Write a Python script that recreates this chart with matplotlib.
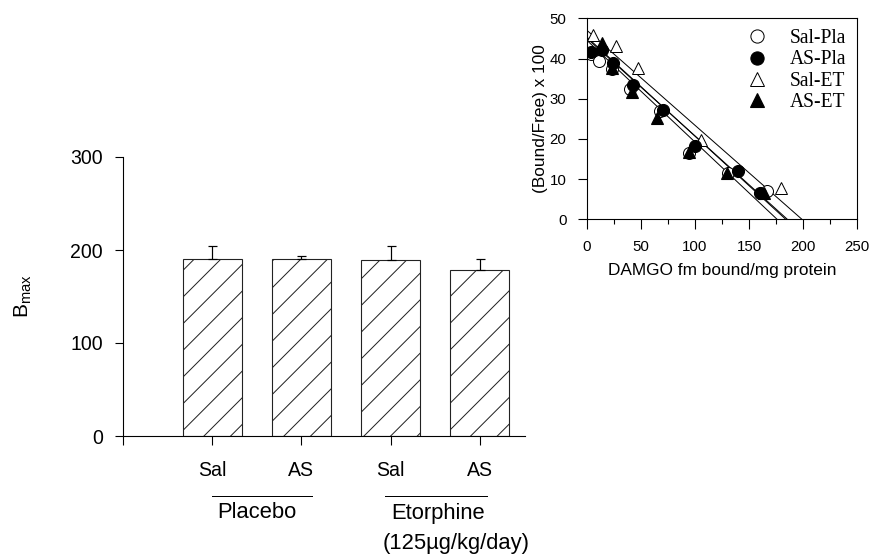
import matplotlib
matplotlib.use('Agg')
import matplotlib.pyplot as plt
from matplotlib.lines import Line2D
from matplotlib.ticker import MultipleLocator

DPI = 80
PT = 72.0 / DPI  # points per pixel

plt.rcParams['font.family'] = ['Liberation Sans', 'DejaVu Sans']
plt.rcParams['mathtext.default'] = 'regular'
plt.rcParams['hatch.linewidth'] = 1.0 * PT
plt.rcParams['hatch.color'] = '#222222'

# ---- bar chart data ----
groups = ['Sal', 'AS', 'Sal', 'AS']
bmax = [190, 190, 189, 179]
bmax_err = [14.5, 3.5, 15, 11]
treatments = ['Placebo', 'Etorphine']
dose_label = '(125µg/kg/day)'

# ---- Scatchard data ----
sal_pla_x = [4, 11, 23, 40, 68, 94, 131, 167]
sal_pla_y = [41, 39.5, 37.5, 32.5, 27, 16.5, 11.5, 7]
as_pla_x = [4, 13.5, 24.5, 43, 70.5, 100, 139.5, 160]
as_pla_y = [41.7, 42, 39, 33.4, 27.2, 18.3, 12, 6.6]
sal_et_x = [5.3, 26.5, 47.5, 106, 179.6]
sal_et_y = [45.8, 43.2, 37.6, 19.7, 7.7]
as_et_x = [13.5, 23.5, 41.5, 64.5, 94, 130, 164]
as_et_y = [43.9, 37.6, 31.7, 25.1, 16.8, 11.4, 6.5]
series_labels = ['Sal-Pla', 'AS-Pla', 'Sal-ET', 'AS-ET']
# fitted lines: y-intercept and x-intercept
fit_y0 = [45.0, 45.3, 47.0, 44.5]
fit_x0 = [185.5, 184, 199, 176]

W, H = 872, 558
fig = plt.figure(figsize=(W / DPI, H / DPI), dpi=DPI)

def fx(px):
    return px / W

def fy(py):
    return 1 - py / H

# ---- left bar chart ----
ax = fig.add_axes([fx(123.3), fy(436), fx(525) - fx(123.3), fy(157) - fy(436)])
xpos = [1, 2, 3, 4]
ax.bar(xpos, bmax, width=0.667, color='white', edgecolor='#222222', linewidth=1.1 * PT,
       hatch='/', zorder=2)
ax.errorbar(xpos, bmax, yerr=[[0] * 4, bmax_err], fmt='none', ecolor='black',
            elinewidth=1.2 * PT, capsize=4.5 * PT, capthick=1.2 * PT, zorder=3)
ax.set_xlim(0, 4.51)
ax.set_ylim(0, 300)
ax.set_yticks([0, 100, 200, 300])
ax.set_xticks([0] + xpos)
ax.set_xticklabels([''] + groups)
ax.spines['top'].set_visible(False)
ax.spines['right'].set_visible(False)
ax.spines['left'].set_linewidth(1.1 * PT)
ax.spines['bottom'].set_linewidth(1.1 * PT)
ax.tick_params(axis='both', direction='out', length=8.5 * PT, width=1.1 * PT,
               labelsize=19.5 * PT)
ax.tick_params(axis='x', pad=16 * PT)
ax.tick_params(axis='y', pad=12 * PT)
ax.set_ylabel(r'$\mathregular{B_{max}}$', fontsize=21 * PT, labelpad=36 * PT)

# group labels
for (x1, x2) in [(211.7, 311.7), (385, 486.7)]:
    fig.add_artist(Line2D([fx(x1), fx(x2)], [fy(496), fy(496)], color='black', lw=1.0 * PT))
fig.text(fx(257), fy(513), treatments[0], ha='center', va='center', fontsize=22 * PT)
fig.text(fx(438), fy(513), treatments[1], ha='center', va='center', fontsize=22 * PT)
fig.text(fx(456), fy(543), dose_label, ha='center', va='center', fontsize=22 * PT)

# ---- right Scatchard plot ----
ax2 = fig.add_axes([fx(587), fy(219.3), fx(857) - fx(587), fy(18.3) - fy(219.3)])
for y0, x0 in zip(fit_y0, fit_x0):
    ax2.plot([0, x0], [y0, 0], color='black', lw=1.0 * PT, zorder=1)
ms = 12 * PT
mew = 1.0 * PT
h1, = ax2.plot(sal_pla_x, sal_pla_y, 'o', mfc='white', mec='black', mew=mew, ms=ms, zorder=2)
h3, = ax2.plot(sal_et_x, sal_et_y, '^', mfc='white', mec='black', mew=mew, ms=ms, zorder=2)
h2, = ax2.plot(as_pla_x, as_pla_y, 'o', mfc='black', mec='black', ms=ms, zorder=3)
h4, = ax2.plot(as_et_x, as_et_y, '^', mfc='black', mec='black', ms=ms, zorder=3)
ax2.set_xlim(0, 250)
ax2.set_ylim(0, 50)
ax2.set_xticks([0, 50, 100, 150, 200, 250])
ax2.xaxis.set_minor_locator(MultipleLocator(25))
ax2.set_yticks([0, 10, 20, 30, 40, 50])
for s in ax2.spines.values():
    s.set_linewidth(1.1 * PT)
ax2.tick_params(axis='both', which='major', direction='out', length=9.5 * PT,
                width=1.1 * PT, labelsize=15 * PT)
ax2.tick_params(axis='x', which='minor', direction='out', length=4.5 * PT, width=1.1 * PT)
ax2.tick_params(axis='x', which='major', pad=11 * PT)
ax2.tick_params(axis='y', which='major', pad=11 * PT)
ax2.set_xlabel('DAMGO fm bound/mg protein', fontsize=17.3 * PT, labelpad=9 * PT)
ax2.set_ylabel('(Bound/Free) x 100', fontsize=17.3 * PT, labelpad=2 * PT)
leg = ax2.legend([h1, h2, h3, h4], series_labels, loc='upper right', frameon=False,
                 prop={'family': 'Liberation Serif', 'size': 19.5 * PT},
                 handletextpad=0.95, labelspacing=0.12, borderaxespad=0.1,
                 borderpad=0.45, handlelength=1.5, markerscale=1.1)

fig.savefig('out.png', dpi=DPI)
